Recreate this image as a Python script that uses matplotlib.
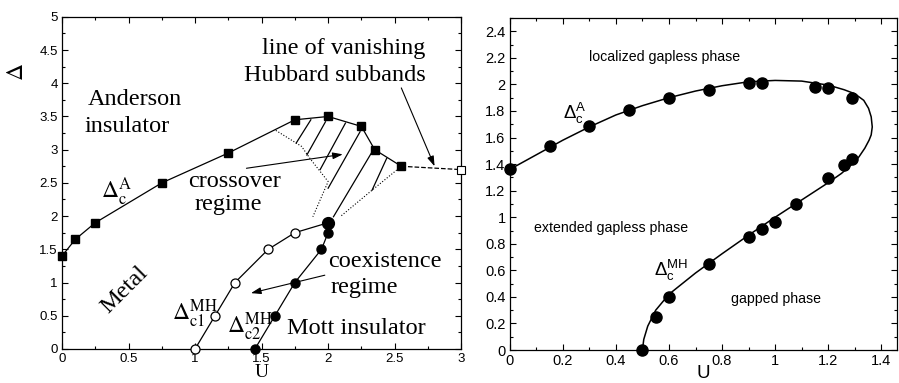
import numpy as np
import matplotlib
matplotlib.use('Agg')
import matplotlib.pyplot as plt
from matplotlib.ticker import MultipleLocator, FormatStrFormatter

plt.rcParams['mathtext.fontset'] = 'custom'
plt.rcParams['mathtext.rm'] = 'Liberation Sans'
plt.rcParams['mathtext.it'] = 'Liberation Sans:italic'

# left panel: DMFT phase diagram
U_A = [0.0, 0.1, 0.25, 0.75, 1.25, 1.75, 2.0, 2.25, 2.35, 2.55]
D_A = [1.4, 1.65, 1.9, 2.5, 2.95, 3.45, 3.5, 3.35, 3.0, 2.75]
U_c1 = [1.0, 1.15, 1.3, 1.55, 1.75]
D_c1 = [0.0, 0.5, 1.0, 1.5, 1.75]
U_c2 = [1.45, 1.6, 1.75, 1.95, 2.0, 2.0]
D_c2 = [0.0, 0.5, 1.0, 1.5, 1.75, 1.9]
U_vanish = [2.55, 3.0]
D_vanish = [2.75, 2.7]
# dotted borders of the crossover regime
U_cross1 = [1.607, 1.80, 1.87, 2.0, 1.885]
D_cross1 = [3.29, 3.05, 2.85, 2.52, 1.99]
U_cross2 = [2.55, 2.33, 2.09]
D_cross2 = [2.75, 2.39, 1.99]
# hatch lines (start, end)
hatch = [((1.87, 3.45), (1.76, 3.10)),
         ((1.98, 3.42), (1.84, 2.92)),
         ((2.13, 3.40), (1.94, 2.70)),
         ((2.24, 3.27), (2.00, 2.42)),
         ((2.34, 3.00), (2.04, 1.99)),
         ((2.44, 2.87), (2.33, 2.39))]

# right panel: curve and data points
U_pts = [0.0, 0.15, 0.3, 0.45, 0.6, 0.75, 0.9, 0.95, 1.15, 1.2, 1.29,
         1.29, 1.26, 1.2, 1.08, 1.0, 0.95, 0.9, 0.75, 0.6, 0.55, 0.5]
D_pts = [1.36, 1.535, 1.69, 1.806, 1.90, 1.956, 2.007, 2.01, 1.98, 1.976, 1.894,
         1.44, 1.397, 1.297, 1.098, 0.966, 0.908, 0.848, 0.647, 0.396, 0.246, 0.0]
U_curve = [0.0, 0.1, 0.2, 0.3, 0.4, 0.5, 0.6, 0.7, 0.8, 0.9, 1.0, 1.1, 1.2,
           1.26, 1.30, 1.334, 1.352, 1.362, 1.366, 1.362, 1.354, 1.338, 1.316,
           1.29, 1.25, 1.2, 1.1, 1.0, 0.9, 0.8, 0.7, 0.6, 0.55, 0.52, 0.505, 0.5]
D_curve = [1.36, 1.47, 1.58, 1.68, 1.77, 1.84, 1.90, 1.95, 1.99, 2.02, 2.03, 2.025, 1.995,
           1.96, 1.93, 1.88, 1.82, 1.756, 1.68, 1.62, 1.58, 1.52, 1.455,
           1.40, 1.33, 1.26, 1.13, 1.0, 0.865, 0.725, 0.58, 0.42, 0.30, 0.18, 0.08, 0.0]

fig = plt.figure(figsize=(8.99, 3.83), dpi=100)
ax1 = fig.add_axes([0.069, 0.089, 0.444, 0.867])
ax2 = fig.add_axes([0.567, 0.086, 0.431, 0.867])

lw = 0.9
serif = 'Liberation Serif'
sans = 'Liberation Sans'

for ax, ls in ((ax1, 9.5), (ax2, 10.5)):
    ax.tick_params(which='both', direction='in', top=True, right=True,
                   labelsize=ls, width=0.8, pad=3)
    ax.tick_params(which='major', length=4)
    ax.tick_params(which='minor', length=2.5)
    for s in ax.spines.values():
        s.set_linewidth(0.9)

# ---- left panel
ax1.set_xlim(0, 3)
ax1.set_ylim(0, 5)
ax1.xaxis.set_major_locator(MultipleLocator(0.5))
ax1.xaxis.set_minor_locator(MultipleLocator(0.25))
ax1.yaxis.set_major_locator(MultipleLocator(0.5))
ax1.yaxis.set_minor_locator(MultipleLocator(0.25))
ax1.xaxis.set_major_formatter(FormatStrFormatter('%g'))
ax1.yaxis.set_major_formatter(FormatStrFormatter('%g'))

ax1.plot(U_A, D_A, 'k-', lw=lw, marker='s', ms=6, clip_on=False, zorder=3)
ax1.plot(U_vanish, D_vanish, 'k--', lw=lw, clip_on=False)
ax1.plot(U_vanish[-1], D_vanish[-1], 'ks', ms=6, mfc='white', mew=0.8, clip_on=False, zorder=4)
ax1.plot(U_c1 + [U_c2[-1]], D_c1 + [D_c2[-1]], 'k-', lw=lw)
ax1.plot(U_c1, D_c1, 'ko', ms=6.5, mfc='white', mew=0.9, clip_on=False, zorder=3)
ax1.plot(U_c2, D_c2, 'k-', lw=lw, marker='o', ms=6.5, clip_on=False, zorder=3)
ax1.plot(U_c2[-1], D_c2[-1], 'ko', ms=8.5, zorder=4)
ax1.plot(U_cross1, D_cross1, 'k:', lw=0.8)
ax1.plot(U_cross2, D_cross2, 'k:', lw=0.8)
for (x0, y0), (x1, y1) in hatch:
    ax1.plot([x0, x1], [y0, y1], 'k-', lw=lw)

arrow = dict(arrowstyle='-|>,head_length=0.6,head_width=0.2', color='k', lw=0.8,
             shrinkA=0, shrinkB=0)
ax1.annotate('', xy=(2.11, 2.93), xytext=(1.386, 2.72), arrowprops=arrow)
ax1.annotate('', xy=(1.42, 0.84), xytext=(1.975, 1.11), arrowprops=arrow)
ax1.annotate('', xy=(2.80, 2.75), xytext=(2.55, 3.93), arrowprops=arrow)

fs = 17.5
ax1.text(2.73, 4.53, 'line of vanishing', family=serif, fontsize=fs, ha='right', va='center')
ax1.text(2.73, 4.11, 'Hubbard subbands', family=serif, fontsize=fs, ha='right', va='center')
ax1.text(0.19, 3.75, 'Anderson', family=serif, fontsize=fs, ha='left', va='center')
ax1.text(0.17, 3.35, 'insulator', family=serif, fontsize=fs, ha='left', va='center')
ax1.text(1.30, 2.52, 'crossover', family=serif, fontsize=fs, ha='center', va='center')
ax1.text(1.25, 2.17, 'regime', family=serif, fontsize=fs, ha='center', va='center')
ax1.text(2.0, 1.31, 'coexistence', family=serif, fontsize=fs, ha='left', va='center')
ax1.text(2.02, 0.93, 'regime', family=serif, fontsize=fs, ha='left', va='center')
ax1.text(1.69, 0.31, 'Mott insulator', family=serif, fontsize=fs, ha='left', va='center')
ax1.text(0.47, 0.89, 'Metal', family=serif, fontsize=fs, ha='center', va='center',
         rotation=45, rotation_mode='anchor')
ax1.text(0.29, 2.36, r'$\Delta_{\mathrm{c}}^{\mathrm{A}}$', math_fontfamily='stix',
         fontsize=17, ha='left', va='center')
ax1.text(0.83, 0.52, r'$\Delta_{\mathrm{c1}}^{\mathrm{MH}}$', math_fontfamily='stix',
         fontsize=17, ha='left', va='center')
ax1.text(1.24, 0.33, r'$\Delta_{\mathrm{c2}}^{\mathrm{MH}}$', math_fontfamily='stix',
         fontsize=17, ha='left', va='center')

ax1.set_xlabel('U', family=serif, fontsize=14, labelpad=-0.5)
ax1.set_ylabel(r'$\Delta$', math_fontfamily='stix', fontsize=17)
ax1.yaxis.set_label_coords(-0.085, 0.834)

# ---- right panel
ax2.set_xlim(0, 1.46)
ax2.set_ylim(0, 2.5)
ax2.xaxis.set_major_locator(MultipleLocator(0.2))
ax2.xaxis.set_minor_locator(MultipleLocator(0.1))
ax2.yaxis.set_major_locator(MultipleLocator(0.2))
ax2.yaxis.set_minor_locator(MultipleLocator(0.1))
ax2.xaxis.set_major_formatter(FormatStrFormatter('%g'))
ax2.yaxis.set_major_formatter(FormatStrFormatter('%g'))
ax2.set_yticks(np.arange(0, 2.41, 0.2))

ax2.plot(U_curve, D_curve, 'k-', lw=1.1, clip_on=False)
ax2.plot(U_pts, D_pts, 'ko', ms=8, clip_on=False, zorder=3)

ax2.text(0.30, 2.21, 'localized gapless phase', family=sans, fontsize=10.2, ha='left', va='center')
ax2.text(0.09, 0.92, 'extended gapless phase', family=sans, fontsize=10.2, ha='left', va='center')
ax2.text(0.834, 0.384, 'gapped phase', family=sans, fontsize=10.2, ha='left', va='center')
ax2.text(0.20, 1.78, r'$\Delta_{\mathrm{c}}^{\mathrm{A}}$', math_fontfamily='custom',
         fontsize=13.5, ha='left', va='center')
ax2.text(0.545, 0.60, r'$\Delta_{\mathrm{c}}^{\mathrm{MH}}$', math_fontfamily='custom',
         fontsize=13.5, ha='left', va='center')

ax2.set_xlabel('U', family=sans, fontsize=13.5, labelpad=-2)

for ax in (ax1, ax2):
    for lab in ax.get_xticklabels() + ax.get_yticklabels():
        lab.set_family(sans)

fig.savefig('out.png', dpi=100)
